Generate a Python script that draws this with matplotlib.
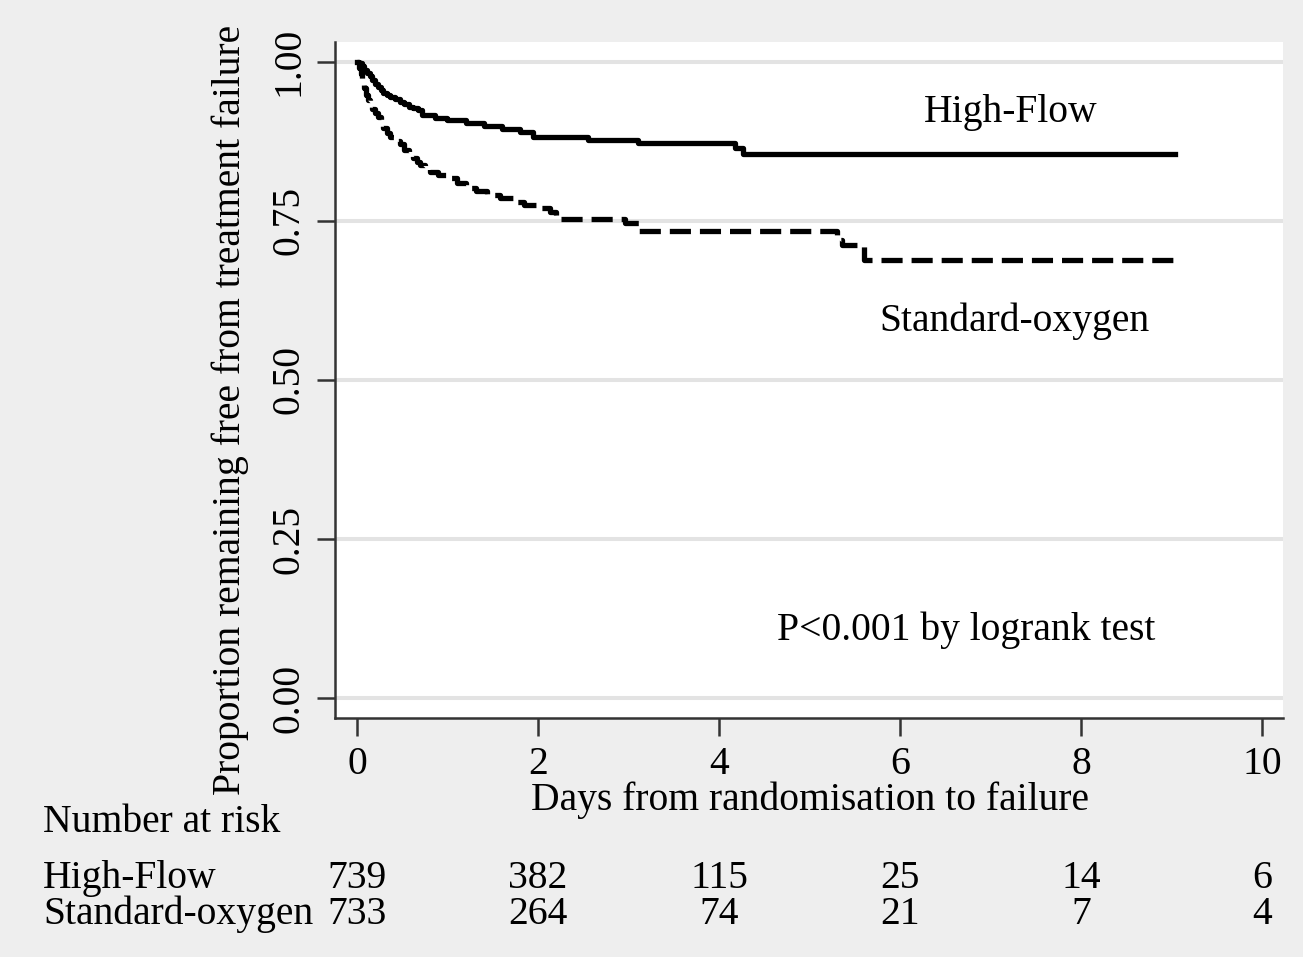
import numpy as np
import matplotlib
matplotlib.use("Agg")
from matplotlib import pyplot as plt
from matplotlib import transforms

plt.rcParams['font.family'] = ['Liberation Serif', 'DejaVu Serif']

# Kaplan-Meier estimates
hf_t = [0, 0.02, 0.05, 0.08, 0.11, 0.14, 0.17, 0.2, 0.23, 0.26, 0.29, 0.33, 0.37,
        0.42, 0.47, 0.52, 0.57, 0.62, 0.67, 0.72, 0.86,
        1.0, 1.2, 1.4, 1.6, 1.8, 1.95, 2.55, 3.1, 4.18, 4.26, 9.04]
hf_s = [1.0, 0.998, 0.993, 0.987, 0.982, 0.977, 0.971, 0.965, 0.96, 0.955, 0.951,
        0.948, 0.945, 0.941, 0.937, 0.933, 0.929, 0.927, 0.924, 0.917, 0.912,
        0.908, 0.903, 0.899, 0.894, 0.89, 0.882, 0.877, 0.873, 0.865, 0.855, 0.855]

so_t = [0, 0.02, 0.04, 0.06, 0.08, 0.1, 0.12, 0.14, 0.17, 0.2, 0.23, 0.26, 0.29,
        0.33, 0.37, 0.42, 0.47, 0.52, 0.57, 0.62, 0.66, 0.7, 0.75, 0.81,
        0.9, 0.99, 1.1, 1.21, 1.32, 1.44, 1.58, 1.72, 1.85, 1.99, 2.13, 2.2, 2.96,
        3.12, 5.3, 5.36, 5.6, 9.04]
so_s = [1.0, 0.99, 0.98, 0.968, 0.958, 0.948, 0.94, 0.932, 0.926, 0.92, 0.913,
        0.904, 0.896, 0.888, 0.882, 0.876, 0.87, 0.862, 0.855, 0.848, 0.843, 0.837,
        0.832, 0.827, 0.822, 0.817, 0.81, 0.802, 0.797, 0.791, 0.786, 0.78, 0.775,
        0.77, 0.764, 0.753, 0.747, 0.734, 0.72, 0.712, 0.689, 0.689]

risk_times = [0, 2, 4, 6, 8, 10]
hf_risk = [739, 382, 115, 25, 14, 6]
so_risk = [733, 264, 74, 21, 7, 4]

xticks = [0, 2, 4, 6, 8, 10]
yticks = [0, 0.25, 0.5, 0.75, 1.0]
ylabels = ['0.00', '0.25', '0.50', '0.75', '1.00']

fs = 28.5
bg = '#eeeeee'

fig = plt.figure(figsize=(13.03, 9.57), dpi=100, facecolor=bg)
ax = fig.add_axes([335/1303, 1-718/957, (1283-335)/1303, (718-42)/957])
ax.set_facecolor('white')

for y in yticks:
    ax.axhline(y, color='#e3e3e3', lw=2.9, zorder=1)

ax.plot(hf_t, hf_s, drawstyle='steps-post', color='black', lw=3.8, zorder=3)
ax.plot(so_t, so_s, drawstyle='steps-post', color='black', lw=3.8,
        dashes=(4.0, 1.7), dash_capstyle='butt', zorder=3)

ax.set_xlim(-0.243, 10.232)
ax.set_ylim(-0.031, 1.031)
ax.set_xticks(xticks)
ax.set_xticklabels([str(t) for t in xticks], fontsize=fs)
ax.set_yticks(yticks)
ax.set_yticklabels(ylabels, fontsize=fs, rotation=90, va='center')
ax.tick_params(axis='both', length=13, width=1.8, color='#333333')
ax.tick_params(axis='x', pad=7)
ax.tick_params(axis='y', pad=7)

for s in ['top', 'right']:
    ax.spines[s].set_visible(False)
for s in ['left', 'bottom']:
    ax.spines[s].set_linewidth(1.8)
    ax.spines[s].set_color('#333333')

ax.text(7.22, 0.921, 'High-Flow', fontsize=fs, ha='center', va='center')
ax.text(7.26, 0.593, 'Standard-oxygen', fontsize=fs, ha='center', va='center')
ax.text(6.73, 0.107, 'P<0.001 by logrank test', fontsize=fs, ha='center', va='center')

fig.text(810/1303, 1-810/957, 'Days from randomisation to failure', fontsize=fs,
         ha='center', va='baseline')
fig.text(230/1303, 1-410/957, 'Proportion remaining free from treatment failure',
         fontsize=fs, rotation=90, ha='center', va='center')

# number at risk table
fig.text(43/1303, 1-832/957, 'Number at risk', fontsize=fs, ha='left', va='baseline')
fig.text(43/1303, 1-888/957, 'High-Flow', fontsize=fs, ha='left', va='baseline')
fig.text(43/1303, 1-924/957, 'Standard-oxygen', fontsize=fs, ha='left', va='baseline')
trans = transforms.blended_transform_factory(ax.transData, fig.transFigure)
for t, a, b in zip(risk_times, hf_risk, so_risk):
    ax.text(t, 1-888/957, str(a), transform=trans, fontsize=fs, ha='center',
            va='baseline', clip_on=False)
    ax.text(t, 1-924/957, str(b), transform=trans, fontsize=fs, ha='center',
            va='baseline', clip_on=False)

fig.savefig('out.png', dpi=100, facecolor=bg)
